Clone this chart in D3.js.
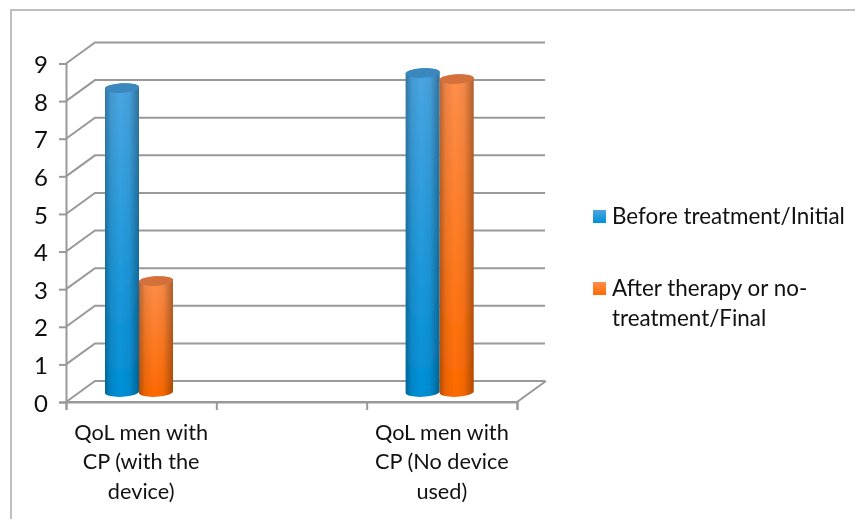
<!DOCTYPE html>
<html>
<head>
<meta charset="utf-8">
<script src="https://cdn.jsdelivr.net/npm/d3@7"></script>
<style>
body { margin: 0; background: #fff; }
text { font-family: Lato, "Open Sans", sans-serif; fill: #111; }
</style>
</head>
<body>
<div id="chart"></div>
<script>
var categories = ["QoL men with CP (with the device)", "QoL men with CP (No device used)"];
var slots = [categories[0], "", categories[1]];
var categoryLines = [["QoL men with", "CP (with the", "device)"], ["QoL men with", "CP (No device", "used)"]];
var seriesNames = ["Before treatment/Initial", "After therapy or no-treatment/Final"];
var legendLines = [["Before treatment/Initial"], ["After therapy or no-", "treatment/Final"]];
var beforeValues = [8.08, 8.48];
var afterValues = [2.95, 8.32];
var yTicks = [0, 1, 2, 3, 4, 5, 6, 7, 8, 9];

var width = 855, height = 519;
var depthX = 29, depthY = -21;
var gray = "#999";

var svg = d3.select("#chart").append("svg")
    .attr("width", width)
    .attr("height", height);

var defs = svg.append("defs");

function vertical(id, top, bottom) {
    var g = defs.append("linearGradient").attr("id", id)
        .attr("x1", 0).attr("y1", 0).attr("x2", 0).attr("y2", 1);
    g.append("stop").attr("offset", "0%").attr("stop-color", top);
    g.append("stop").attr("offset", "100%").attr("stop-color", bottom);
}
vertical("blueBody", "#4ba6e2", "#0090d8");
vertical("orangeBody", "#ff8f4c", "#ff6a00");

var shade = defs.append("linearGradient").attr("id", "shade");
[[0, 0.3], [0.18, 0.08], [0.45, 0], [0.72, 0.05], [1, 0.32]].forEach(function(s) {
    shade.append("stop").attr("offset", s[0])
        .attr("stop-color", "#000").attr("stop-opacity", s[1]);
});

defs.append("filter").attr("id", "soft")
    .append("feGaussianBlur").attr("stdDeviation", 0.5);

// page frame
svg.append("path")
    .attr("d", d3.line()([[11, height], [11, 10], [width, 10]]))
    .attr("fill", "none").attr("stroke", "#aaa").attr("stroke-width", 1.5);

var y = d3.scaleLinear().domain([0, 9]).range([402, 63.5]);
var x = d3.scaleBand().domain(slots).range([66, 517]);
var xInner = d3.scaleBand().domain(seriesNames).range([39, 107]);
var xEdges = d3.scaleLinear().domain([0, 3]).range([66, 517]);

var plot = svg.append("g").attr("filter", "url(#soft)");

// walls
plot.selectAll(".wall").data(yTicks).enter().append("path")
    .attr("class", "wall")
    .attr("fill", "none")
    .attr("stroke", gray)
    .attr("stroke-width", 2)
    .attr("d", function(d) {
        return d3.line()([[66, y(d)], [66 + depthX, y(d) + depthY], [545, y(d) + depthY]]);
    });

// floor front edge and right side
plot.append("path")
    .attr("d", d3.line()([[66, y(0)], [517, y(0)], [517 + depthX, y(0) + depthY]]))
    .attr("fill", "none").attr("stroke", gray).attr("stroke-width", 2);

var yAxis = plot.append("g")
    .attr("transform", "translate(66,0)")
    .call(d3.axisLeft(y).tickValues(yTicks).tickSize(7).tickPadding(11));
yAxis.selectAll("line, path").attr("stroke", gray).attr("stroke-width", 2);
yAxis.selectAll("text").attr("font-size", 24).attr("dy", "0.38em").style("fill", "#111");

var xAxis = plot.append("g")
    .attr("transform", "translate(0," + y(0) + ")")
    .call(d3.axisBottom(xEdges).tickValues([0, 1, 2, 3]).tickSize(8).tickFormat(""));
xAxis.selectAll("line, path").attr("stroke", gray).attr("stroke-width", 2);

// cylinders
var bars = [];
categories.forEach(function(c, i) {
    bars.push({ cat: c, name: seriesNames[0], value: beforeValues[i], body: "blueBody", lid: "#3a88bf" });
    bars.push({ cat: c, name: seriesNames[1], value: afterValues[i], body: "orangeBody", lid: "#d4703a" });
});

var tilt = -3;
var bar = plot.selectAll(".bar").data(bars).enter().append("g")
    .attr("class", "bar")
    .attr("transform", function(d) {
        return "translate(" + (x(d.cat) + xInner(d.name)) + ",0)";
    });

function bodyPath(d) {
    var w = xInner.bandwidth();
    var top = y(d.value) - 10;
    var base = y(0) - 10;
    var rx = w / 2, ry = 4.8;
    return "M0," + (top + 1.5) + "L0," + (base + 1) +
        "A" + rx + "," + ry + " " + tilt + " 0 0 " + w + "," + (base - 1) +
        "L" + w + "," + (top - 1.5) +
        "A" + rx + "," + ry + " " + tilt + " 0 0 0," + (top + 1.5) + "Z";
}

bar.append("path").attr("d", bodyPath).attr("fill", function(d) { return "url(#" + d.body + ")"; });
bar.append("path").attr("d", bodyPath).attr("fill", "url(#shade)");
bar.append("ellipse")
    .attr("rx", xInner.bandwidth() / 2)
    .attr("ry", 4.8)
    .attr("fill", function(d) { return d.lid; })
    .attr("transform", function(d) {
        return "translate(" + (xInner.bandwidth() / 2) + "," + (y(d.value) - 10) + ") rotate(" + tilt + ")";
    });

// category labels
var labels = svg.selectAll(".cat-label").data(categories).enter().append("text")
    .attr("class", "cat-label")
    .attr("text-anchor", "middle")
    .attr("font-size", 21.7);
labels.selectAll("tspan").data(function(d, i) { return categoryLines[i]; })
    .enter().append("tspan")
    .attr("x", function() { return x(d3.select(this.parentNode).datum()) + x.bandwidth() / 2; })
    .attr("y", function(d, i) { return 440 + i * 29.3; })
    .text(function(d) { return d; });

// legend
var legendColors = ["url(#blueBody)", "url(#orangeBody)"];
var legendY = [224, 296];
var legend = svg.selectAll(".legend").data(seriesNames).enter().append("g")
    .attr("class", "legend");
legend.append("rect")
    .attr("x", 593).attr("width", 13).attr("height", 13)
    .attr("y", function(d, i) { return legendY[i] - 14; })
    .attr("fill", function(d, i) { return legendColors[i]; });
legend.each(function(d, i) {
    d3.select(this).selectAll("text").data(legendLines[i]).enter().append("text")
        .attr("x", 612)
        .attr("y", function(t, j) { return legendY[i] + j * 29.5; })
        .attr("font-size", 22.4)
        .text(function(t) { return t; });
});
</script>
</body>
</html>
